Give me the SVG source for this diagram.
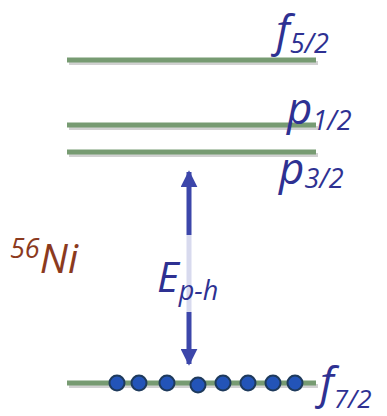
<svg xmlns="http://www.w3.org/2000/svg" width="387" height="416" viewBox="0 0 387 416">
<defs>
<style>
.lvl{stroke:#779b72;stroke-width:5;}
.sh{stroke:#000;stroke-opacity:0.18;stroke-width:4;}
.lab{font-family:"Open Sans","DejaVu Sans",sans-serif;font-style:italic;fill:#2e3192;}
.dot{fill:#2354b8;stroke:#1e3a5c;stroke-width:2;}
</style>
<marker id="ah" viewBox="0 0 10 10" refX="9" refY="5" markerWidth="3.4" markerHeight="3.4" orient="auto-start-reverse" markerUnits="strokeWidth">
<path d="M0,0 L10,5 L0,10 z" fill="#3c46aa"/>
</marker>
</defs>
<g id="level-f52">
<line class="sh" x1="69" y1="63" x2="318" y2="63"/>
<line class="lvl" x1="67" y1="60" x2="316" y2="60"/>
<text class="lab" x="276" y="46" font-size="44">f<tspan font-size="27" dy="7">5/2</tspan></text>
</g>
<g id="level-p12">
<line class="sh" x1="69" y1="128" x2="318" y2="128"/>
<line class="lvl" x1="67" y1="125" x2="316" y2="125"/>
<text class="lab" x="287" y="124" font-size="44">p<tspan font-size="27" dy="6">1/2</tspan></text>
</g>
<g id="level-p32">
<line class="sh" x1="69" y1="155" x2="318" y2="155"/>
<line class="lvl" x1="67" y1="152" x2="316" y2="152"/>
<text class="lab" x="279" y="184" font-size="44">p<tspan font-size="27" dy="4">3/2</tspan></text>
</g>
<g id="connectors">
<line x1="189" y1="172" x2="189" y2="364" stroke="#3c46aa" stroke-width="5" marker-start="url(#ah)" marker-end="url(#ah)"/>
</g>
<g id="label-eph">
<rect x="158" y="235" width="70" height="77" fill="#fff" fill-opacity="0.8"/>
<text class="lab" x="157" y="292" font-size="42">E<tspan font-size="27" dy="8">p-h</tspan></text>
</g>
<g id="level-f72">
<line class="sh" x1="69" y1="386" x2="318" y2="386"/>
<line class="lvl" x1="67" y1="383" x2="316" y2="383"/>
<circle class="dot" cx="117" cy="383" r="7.5"/>
<circle class="dot" cx="139" cy="383" r="7.5"/>
<circle class="dot" cx="167" cy="383" r="7.5"/>
<circle class="dot" cx="198" cy="385" r="7.5"/>
<circle class="dot" cx="223" cy="383" r="7.5"/>
<circle class="dot" cx="248" cy="383" r="7.5"/>
<circle class="dot" cx="273" cy="383" r="7.5"/>
<circle class="dot" cx="295" cy="383" r="7.5"/>
<text class="lab" x="320" y="398" font-size="44">f<tspan font-size="26" dy="10">7/2</tspan></text>
</g>
<g id="label-ni">
<text x="10" y="273" font-family="'Open Sans','DejaVu Sans',sans-serif" font-style="italic" fill="#8b3a1e" font-size="40"><tspan font-size="27" dy="-15">56</tspan><tspan dy="15">Ni</tspan></text>
</g>
</svg>
